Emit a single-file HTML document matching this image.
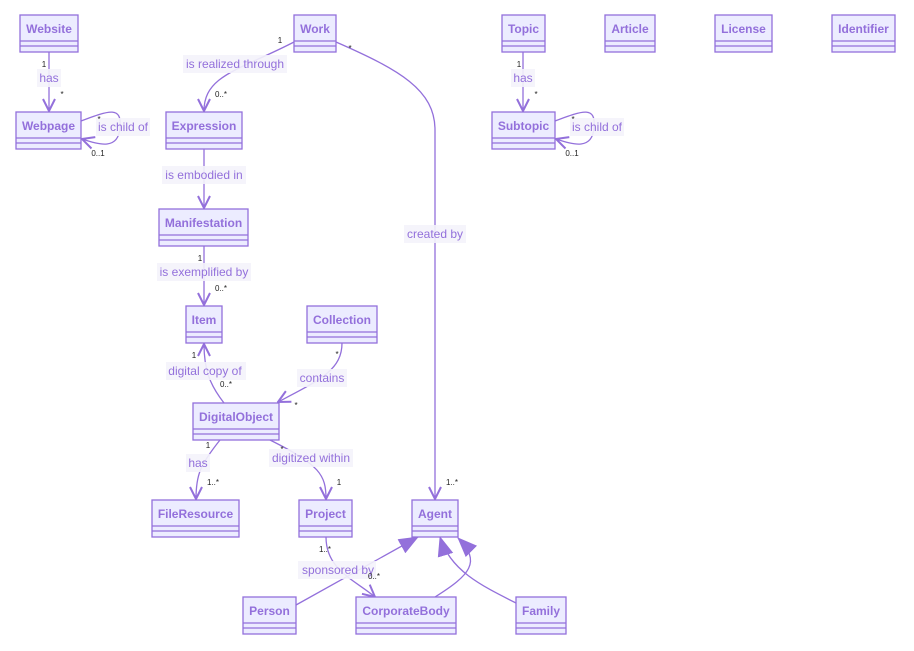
<!DOCTYPE html>
<html><head><meta charset="utf-8">
<style>
html,body{margin:0;padding:0;background:#fff;}
svg{display:block;font-family:"Liberation Sans",sans-serif;}
.box{fill:#ECECFF;stroke:#9370DB;stroke-width:1.3;}
.sep{stroke:#9370DB;stroke-width:1.3;}
.t{fill:#9370DB;font-size:12px;font-weight:bold;text-anchor:middle;}
.e{fill:none;stroke:#9370DB;stroke-width:1.3;}
.lb{fill:#F4F3FB;opacity:0.9;}
.l{fill:#9370DB;font-size:12px;text-anchor:middle;}
.c{fill:#222;font-size:8px;text-anchor:middle;}
</style></head><body>
<svg width="914" height="651" viewBox="0 0 914 651">
<defs>
<marker id="a" viewBox="0 0 14 14" refX="13" refY="7" markerWidth="14" markerHeight="14" markerUnits="userSpaceOnUse" orient="auto">
<path d="M1,1 L13,7 L1,13" fill="none" stroke="#9370DB" stroke-width="2"/>
</marker>
<marker id="tri" viewBox="0 0 20 20" refX="19" refY="10" markerWidth="20" markerHeight="20" markerUnits="userSpaceOnUse" orient="auto">
<path d="M0,2 L20,10 L0,18 Z" fill="#9370DB"/>
</marker>
</defs>

<!-- edges -->
<path class="e" d="M49,52 L49,111" marker-end="url(#a)"/>
<path class="e" d="M81,121 C110,110 122,106 120,128 C118,150 100,145 82,139" marker-end="url(#a)"/>
<path class="e" d="M294,42 C240,70 204,75 204,111" marker-end="url(#a)"/>
<path class="e" d="M336,42 C400,70 435,90 435,130 L435,499" marker-end="url(#a)"/>
<path class="e" d="M523,52 L523,111" marker-end="url(#a)"/>
<path class="e" d="M555,121 C584,110 596,106 594,128 C592,150 574,145 556,139" marker-end="url(#a)"/>
<path class="e" d="M204,149 L204,208" marker-end="url(#a)"/>
<path class="e" d="M204,246 L204,305" marker-end="url(#a)"/>
<path class="e" d="M224,403 C210,385 204,370 204,344" marker-end="url(#a)"/>
<path class="e" d="M342,343 C342,370 320,380 278,402" marker-end="url(#a)"/>
<path class="e" d="M220,440 C200,465 196,475 196,499" marker-end="url(#a)"/>
<path class="e" d="M270,440 C320,465 326,475 326,499" marker-end="url(#a)"/>
<path class="e" d="M326,537 C326,570 355,580 375,597" marker-end="url(#a)"/>
<path class="e" d="M296,605 L418,537" marker-end="url(#tri)"/>
<path class="e" d="M435,597 C470,575 482,562 458,538" marker-end="url(#tri)"/>
<path class="e" d="M516,603 C480,585 450,570 440,537" marker-end="url(#tri)"/>

<!-- labels -->
<g>
<rect class="lb" x="37" y="69" width="24" height="18"/><text class="l" x="49" y="82">has</text>
<rect class="lb" x="96" y="118" width="54" height="18"/><text class="l" x="123" y="131">is child of</text>
<rect class="lb" x="183" y="55" width="104" height="18"/><text class="l" x="235" y="68">is realized through</text>
<rect class="lb" x="404" y="225" width="62" height="18"/><text class="l" x="435" y="238">created by</text>
<rect class="lb" x="511" y="69" width="24" height="18"/><text class="l" x="523" y="82">has</text>
<rect class="lb" x="570" y="118" width="54" height="18"/><text class="l" x="597" y="131">is child of</text>
<rect class="lb" x="162" y="166" width="84" height="18"/><text class="l" x="204" y="179">is embodied in</text>
<rect class="lb" x="157" y="263" width="94" height="18"/><text class="l" x="204" y="276">is exemplified by</text>
<rect class="lb" x="166" y="362" width="80" height="18"/><text class="l" x="205" y="375">digital copy of</text>
<rect class="lb" x="297" y="369" width="50" height="18"/><text class="l" x="322" y="382">contains</text>
<rect class="lb" x="186" y="454" width="24" height="18"/><text class="l" x="198" y="467">has</text>
<rect class="lb" x="269" y="449" width="84" height="18"/><text class="l" x="311" y="462">digitized within</text>
<rect class="lb" x="298" y="561" width="78" height="18"/><text class="l" x="338" y="574">sponsored by</text>
</g>

<!-- cardinalities -->
<g class="c">
<text x="44" y="67">1</text><text x="62" y="97">*</text>
<text x="99" y="122">*</text><text x="98" y="156">0..1</text>
<text x="280" y="43">1</text><text x="221" y="97">0..*</text>
<text x="350" y="51">*</text><text x="452" y="485">1..*</text>
<text x="519" y="67">1</text><text x="536" y="97">*</text>
<text x="573" y="122">*</text><text x="572" y="156">0..1</text>
<text x="200" y="261">1</text><text x="221" y="291">0..*</text>
<text x="194" y="358">1</text><text x="226" y="387">0..*</text>
<text x="337" y="357">*</text><text x="296" y="408">*</text>
<text x="208" y="448">1</text><text x="213" y="485">1..*</text>
<text x="282" y="452">*</text><text x="339" y="485">1</text>
<text x="325" y="552">1..*</text><text x="374" y="579">0..*</text>
</g>

<!-- boxes -->
<g>
<g transform="translate(20,15)"><rect class="box" width="58" height="37"/><line class="sep" x1="0" y1="26" x2="58" y2="26"/><line class="sep" x1="0" y1="31" x2="58" y2="31"/><text class="t" x="29" y="18">Website</text></g>
<g transform="translate(294,15)"><rect class="box" width="42" height="37"/><line class="sep" x1="0" y1="26" x2="42" y2="26"/><line class="sep" x1="0" y1="31" x2="42" y2="31"/><text class="t" x="21" y="18">Work</text></g>
<g transform="translate(502,15)"><rect class="box" width="43" height="37"/><line class="sep" x1="0" y1="26" x2="43" y2="26"/><line class="sep" x1="0" y1="31" x2="43" y2="31"/><text class="t" x="21.5" y="18">Topic</text></g>
<g transform="translate(605,15)"><rect class="box" width="50" height="37"/><line class="sep" x1="0" y1="26" x2="50" y2="26"/><line class="sep" x1="0" y1="31" x2="50" y2="31"/><text class="t" x="25" y="18">Article</text></g>
<g transform="translate(715,15)"><rect class="box" width="57" height="37"/><line class="sep" x1="0" y1="26" x2="57" y2="26"/><line class="sep" x1="0" y1="31" x2="57" y2="31"/><text class="t" x="28.5" y="18">License</text></g>
<g transform="translate(832,15)"><rect class="box" width="63" height="37"/><line class="sep" x1="0" y1="26" x2="63" y2="26"/><line class="sep" x1="0" y1="31" x2="63" y2="31"/><text class="t" x="31.5" y="18">Identifier</text></g>
<g transform="translate(16,112)"><rect class="box" width="65" height="37"/><line class="sep" x1="0" y1="26" x2="65" y2="26"/><line class="sep" x1="0" y1="31" x2="65" y2="31"/><text class="t" x="32.5" y="18">Webpage</text></g>
<g transform="translate(166,112)"><rect class="box" width="76" height="37"/><line class="sep" x1="0" y1="26" x2="76" y2="26"/><line class="sep" x1="0" y1="31" x2="76" y2="31"/><text class="t" x="38" y="18">Expression</text></g>
<g transform="translate(492,112)"><rect class="box" width="63" height="37"/><line class="sep" x1="0" y1="26" x2="63" y2="26"/><line class="sep" x1="0" y1="31" x2="63" y2="31"/><text class="t" x="31.5" y="18">Subtopic</text></g>
<g transform="translate(159,209)"><rect class="box" width="89" height="37"/><line class="sep" x1="0" y1="26" x2="89" y2="26"/><line class="sep" x1="0" y1="31" x2="89" y2="31"/><text class="t" x="44.5" y="18">Manifestation</text></g>
<g transform="translate(186,306)"><rect class="box" width="36" height="37"/><line class="sep" x1="0" y1="26" x2="36" y2="26"/><line class="sep" x1="0" y1="31" x2="36" y2="31"/><text class="t" x="18" y="18">Item</text></g>
<g transform="translate(307,306)"><rect class="box" width="70" height="37"/><line class="sep" x1="0" y1="26" x2="70" y2="26"/><line class="sep" x1="0" y1="31" x2="70" y2="31"/><text class="t" x="35" y="18">Collection</text></g>
<g transform="translate(193,403)"><rect class="box" width="86" height="37"/><line class="sep" x1="0" y1="26" x2="86" y2="26"/><line class="sep" x1="0" y1="31" x2="86" y2="31"/><text class="t" x="43" y="18">DigitalObject</text></g>
<g transform="translate(152,500)"><rect class="box" width="87" height="37"/><line class="sep" x1="0" y1="26" x2="87" y2="26"/><line class="sep" x1="0" y1="31" x2="87" y2="31"/><text class="t" x="43.5" y="18">FileResource</text></g>
<g transform="translate(299,500)"><rect class="box" width="53" height="37"/><line class="sep" x1="0" y1="26" x2="53" y2="26"/><line class="sep" x1="0" y1="31" x2="53" y2="31"/><text class="t" x="26.5" y="18">Project</text></g>
<g transform="translate(412,500)"><rect class="box" width="46" height="37"/><line class="sep" x1="0" y1="26" x2="46" y2="26"/><line class="sep" x1="0" y1="31" x2="46" y2="31"/><text class="t" x="23" y="18">Agent</text></g>
<g transform="translate(243,597)"><rect class="box" width="53" height="37"/><line class="sep" x1="0" y1="26" x2="53" y2="26"/><line class="sep" x1="0" y1="31" x2="53" y2="31"/><text class="t" x="26.5" y="18">Person</text></g>
<g transform="translate(356,597)"><rect class="box" width="100" height="37"/><line class="sep" x1="0" y1="26" x2="100" y2="26"/><line class="sep" x1="0" y1="31" x2="100" y2="31"/><text class="t" x="50" y="18">CorporateBody</text></g>
<g transform="translate(516,597)"><rect class="box" width="50" height="37"/><line class="sep" x1="0" y1="26" x2="50" y2="26"/><line class="sep" x1="0" y1="31" x2="50" y2="31"/><text class="t" x="25" y="18">Family</text></g>
</g>
</svg>
</body></html>
